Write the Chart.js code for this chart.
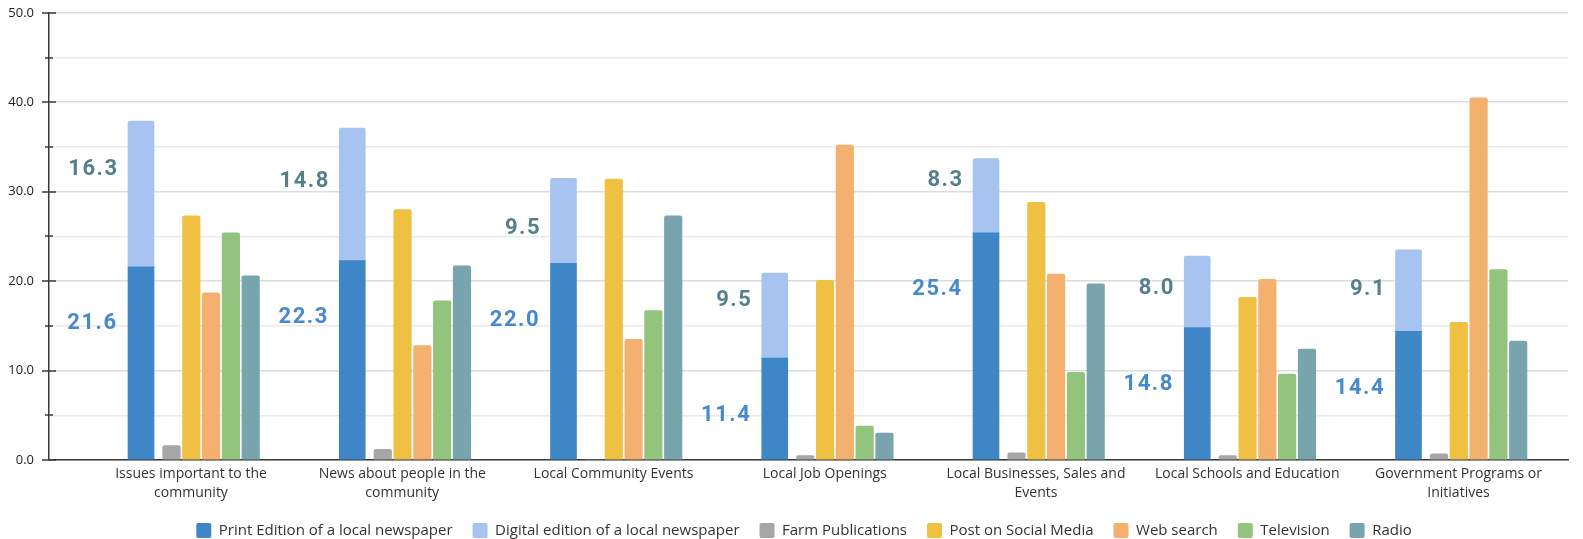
<!DOCTYPE html>
<html>
<head>
<meta charset="utf-8">
<script src="https://cdn.jsdelivr.net/npm/chart.js@4"></script>
<style>
  html, body { margin: 0; padding: 0; background: #fff; overflow: hidden; }
  #wrap { width: 1583px; height: 558px; margin-top: -10px; }
</style>
</head>
<body>
<div id="wrap"><canvas id="newsChart"></canvas></div>
<script>
// where people get local news, by topic (%)
const categories = [
    "Issues important to the community",
    "News about people in the community",
    "Local Community Events",
    "Local Job Openings",
    "Local Businesses, Sales and Events",
    "Local Schools and Education",
    "Government Programs or Initiatives"
];
const printEdition   = [21.6, 22.3, 22.0, 11.4, 25.4, 14.8, 14.4];
const digitalEdition = [16.3, 14.8, 9.5, 9.5, 8.3, 8.0, 9.1];
const farmPubs       = [1.6, 1.2, 0, 0.5, 0.8, 0.5, 0.7];
const socialMedia    = [27.3, 28.0, 31.4, 20.1, 28.8, 18.2, 15.4];
const webSearch      = [18.7, 12.8, 13.5, 35.2, 20.8, 20.2, 40.5];
const television     = [25.4, 17.8, 16.7, 3.8, 9.8, 9.6, 21.3];
const radio          = [20.6, 21.7, 27.3, 3.0, 19.7, 12.4, 13.3];
const yMax = 50;

// how far below the top of the stack each digital label sits (px)
const digitalLabelDrop = [48, 53, 50, 27, 22, 32, 40];

// x layout: one category = unitPx wide; each series gets its own hidden axis,
// shifted so its bar lands at a fixed offset from the category label
const unitPx = 211.25;
const plotLeft = 49, plotRight = 1568, firstLabelX = 191;
const baseMin = (plotLeft - firstLabelX) / unitPx;
const baseMax = (plotRight - firstLabelX) / unitPx;
const barShift = { xPrint: -50, xFarm: -19.5, xSocial: 0.3, xWeb: 20.1, xTv: 39.9, xRadio: 59.7 };
const legendNudge = 20;

function shiftedAxis(px) {
    return {
        type: "linear", display: false, offset: false,
        min: baseMin - px / unitPx, max: baseMax - px / unitPx,
        grid: { offset: false },
        ticks: { stepSize: 1, includeBounds: false }
    };
}

function wrapLabel(text, maxChars) {
    const lines = [];
    let line = "";
    text.split(" ").forEach(w => {
        const next = line ? line + " " + w : w;
        if (next.length > maxChars && line) { lines.push(line); line = w; }
        else line = next;
    });
    lines.push(line);
    return lines;
}

const pts = arr => arr.map((v, i) => ({ x: i, y: v }));

const axisTicks = {
    id: "axisTicks",
    afterDraw(chart) {
        const y = chart.scales.y;
        const ctx = chart.ctx;
        const x0 = chart.chartArea.left;
        ctx.save();
        ctx.strokeStyle = "#3a3a3a";
        ctx.lineWidth = 1.5;
        y.ticks.forEach((t, i) => {
            const py = Math.round(y.getPixelForTick(i));
            const half = t.value % 10 === 0 ? 7 : 4;
            ctx.beginPath();
            ctx.moveTo(x0 - half, py);
            ctx.lineTo(x0 + half, py);
            ctx.stroke();
        });
        ctx.restore();
    }
};

// legend sits a little right of centre
const legendShift = {
    id: "legendShift",
    afterLayout(chart) {
        if (!chart.legend) return;
        chart.legend.left += legendNudge;
        chart.legend.right += legendNudge;
    }
};

const valueLabels = {
    id: "valueLabels",
    afterDatasetsDraw(chart) {
        const ctx = chart.ctx;
        ctx.save();
        ctx.font = "bold 22px Roboto";
        ctx.letterSpacing = "1.5px";
        ctx.textAlign = "right";
        ctx.textBaseline = "middle";
        chart.getDatasetMeta(0).data.forEach((bar, i) => {
            ctx.fillStyle = "#4589cf";
            ctx.fillText(printEdition[i].toFixed(1), bar.x - bar.width / 2 - 10.5, bar.y + 57);
        });
        chart.getDatasetMeta(1).data.forEach((bar, i) => {
            ctx.fillStyle = "#557f8d";
            ctx.fillText(digitalEdition[i].toFixed(1), bar.x - bar.width / 2 - 9.5, bar.y + digitalLabelDrop[i]);
        });
        ctx.restore();
    }
};

const barOpts = { grouped: false, barThickness: 17.5, borderRadius: 2, borderSkipped: "start" };
const newsOpts = { grouped: false, xAxisID: "xPrint", stack: "news", barThickness: 26 };

const labelAxis = shiftedAxis(0);
Object.assign(labelAxis, {
    display: true,
    grid: { display: false, drawTicks: false, offset: false },
    border: { display: true, color: "#3a3a3a", width: 1.5 },
    afterFit: s => { s.height = 43; },
    ticks: {
        stepSize: 1, includeBounds: false, autoSkip: false, maxRotation: 0, padding: 5,
        color: "#333", font: { family: "'Open Sans'", size: 14, lineHeight: 1.336 },
        callback: v => Number.isInteger(v) && categories[v] ? wrapLabel(categories[v], 27) : ""
    }
});

const scales = { x: labelAxis };
Object.keys(barShift).forEach(id => { scales[id] = shiftedAxis(barShift[id]); });
scales.y = {
    stacked: true,
    min: 0, max: yMax,
    afterFit: s => { s.width = plotLeft; },
    border: { display: true, color: "#3a3a3a", width: 1.5 },
    grid: {
        drawTicks: false,
        color: c => c.tick && c.tick.value % 10 === 0 ? "#dcdcdc" : "#eaeaea",
        lineWidth: 1.5
    },
    ticks: {
        stepSize: 5, padding: 15, color: "#222",
        font: { family: "'Open Sans'", size: 13 },
        callback: v => v % 10 === 0 ? v.toFixed(1) : ""
    }
};

new Chart(document.getElementById("newsChart"), {
    type: "bar",
    data: {
        datasets: [
            { label: "Print Edition of a local newspaper", data: pts(printEdition), backgroundColor: "#3f86c6", ...newsOpts },
            { label: "Digital edition of a local newspaper", data: pts(digitalEdition), backgroundColor: "#a7c4f1", borderRadius: 2, ...newsOpts },
            { label: "Farm Publications", data: pts(farmPubs), backgroundColor: "#a6a6a6", xAxisID: "xFarm", stack: "farm", ...barOpts },
            { label: "Post on Social Media", data: pts(socialMedia), backgroundColor: "#f0c042", xAxisID: "xSocial", stack: "social", ...barOpts },
            { label: "Web search", data: pts(webSearch), backgroundColor: "#f4b06f", xAxisID: "xWeb", stack: "web", ...barOpts },
            { label: "Television", data: pts(television), backgroundColor: "#93c47d", xAxisID: "xTv", stack: "tv", ...barOpts },
            { label: "Radio", data: pts(radio), backgroundColor: "#77a4ad", xAxisID: "xRadio", stack: "radio", ...barOpts }
        ]
    },
    options: {
        responsive: true,
        maintainAspectRatio: false,
        animation: false,
        layout: { padding: { top: 4, right: 15, left: 0, bottom: 0 } },
        scales,
        plugins: {
            legend: {
                position: "bottom",
                labels: {
                    boxWidth: 15, boxHeight: 15, padding: 20, color: "#333",
                    useBorderRadius: true, borderRadius: 2,
                    font: { family: "'Open Sans'", size: 15 }
                }
            },
            tooltip: { enabled: false }
        }
    },
    plugins: [axisTicks, legendShift, valueLabels]
});
</script>
</body>
</html>
